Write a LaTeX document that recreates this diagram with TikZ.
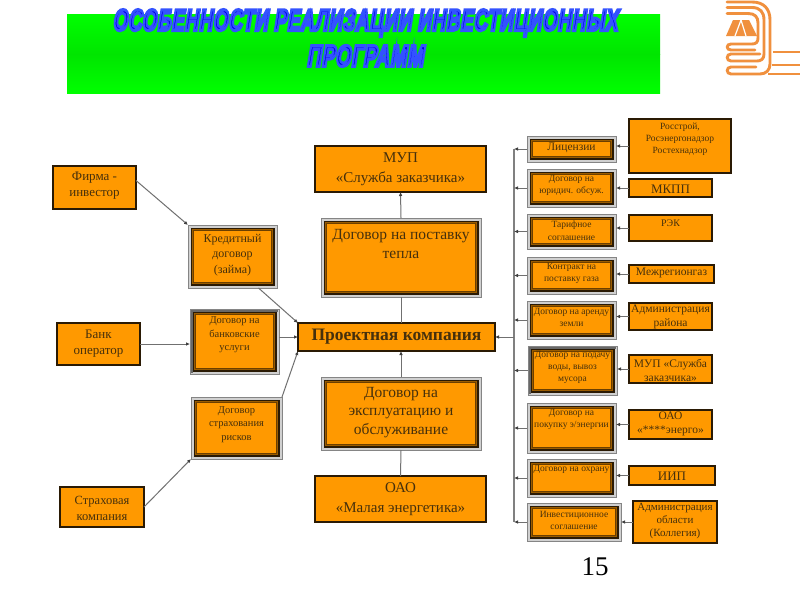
\documentclass[tikz,border=0pt]{standalone}
\usepackage{fontspec}
\setmainfont{Liberation Serif}
\newfontfamily\titlefont[FakeSlant=0.25,LetterSpace=3]{Liberation Sans Bold}
\newfontfamily\numfont{Liberation Serif}
\usetikzlibrary{calc,arrows.meta}
\definecolor{boxorange}{HTML}{FF9900}
\definecolor{rimgray}{HTML}{858585}
\definecolor{gapgray}{HTML}{D0D0D0}
\definecolor{framedark}{HTML}{2A1A04}
\definecolor{bandbrown}{HTML}{9A5C00}
\definecolor{thinbrown}{HTML}{6B3F00}
\definecolor{txtbrown}{HTML}{46300C}
\definecolor{linkgray}{HTML}{707070}
\definecolor{tipgray}{HTML}{404040}
\definecolor{logoorange}{HTML}{F0903E}
\definecolor{sideband}{HTML}{686868}
\newcommand{\outlined}[1]{\special{pdf:code q 2 Tr 1.0 w 0.2 0.32 1 RG}#1\special{pdf:code Q}}
\tikzset{
  x=1pt,y=1pt,
  plainbox/.style={draw=framedark,line width=1.3pt,fill=boxorange,inner sep=0pt,outer sep=0pt},
  rimbox/.style={draw=rimgray,line width=1pt,fill=gapgray,inner sep=0pt,outer sep=0pt},
  lbl/.style={inner sep=0pt,align=center,text=txtbrown},
  conn/.style={draw=linkgray,line width=1pt},
  arr/.style={conn,-{Latex[length=4pt,width=3.6pt,color=tipgray]}},
  logoline/.style={draw=logoorange,line width=2.9pt,line cap=round}
}
% name x0 y0 x1 y1 textcy size leading text
\newcommand{\pbox}[9]{%
  \node[plainbox,minimum width={(#4-#2)*1pt},minimum height={(#5-#3)*1pt}] (#1) at ({(#2+#4)/2},{-(#3+#5)/2}) {};
  \node[lbl,font=\fontsize{#7}{#8}\selectfont] (#1-t) at ({(#2+#4)/2},{-#6}) {#9};
}
\newcommand{\dbox}[9]{%
  \node[rimbox,minimum width={(#4-#2)*1pt},minimum height={(#5-#3)*1pt}] (#1) at ({(#2+#4)/2},{-(#3+#5)/2}) {};
  \fill[framedark] ($(#1.south west)+(2.5,2.5)$) rectangle ($(#1.north east)+(-2.5,-2.5)$);
  \fill[bandbrown] ($(#1.south west)+(3.7,3.7)$) rectangle ($(#1.north east)+(-3.7,-3.7)$);
  \fill[thinbrown] ($(#1.south west)+(5.2,5.2)$) rectangle ($(#1.north east)+(-5.2,-5.2)$);
  \fill[boxorange] ($(#1.south west)+(6,6)$) rectangle ($(#1.north east)+(-6,-6)$);
  \node[lbl,font=\fontsize{#7}{#8}\selectfont] (#1-t) at ({(#2+#4)/2},{-#6}) {#9};
}
\newcommand{\sidebar}[1]{%
  \fill[sideband] ($(#1.south west)+(0.8,0.8)$) rectangle ($(#1.north west)+(3,-0.8)$);
  \fill[sideband] ($(#1.north west)+(0.8,-0.8)$) rectangle ($(#1.north east)+(-0.8,-2.5)$);
}
\begin{document}
\begin{tikzpicture}
\useasboundingbox (0,0) rectangle (800,-600);
\fill[white] (0,0) rectangle (800,-600);
% title band
\shade[top color=green,bottom color=green!90!black] (67,-14) rectangle (660,-54);
\shade[top color=green!90!black,bottom color=green] (67,-54) rectangle (660,-93);
\node[inner sep=0pt,text=blue!90!black] (title1) at (365,-23) {\resizebox{505pt}{21pt}{\outlined{\titlefont ОСОБЕННОСТИ РЕАЛИЗАЦИИ ИНВЕСТИЦИОННЫХ}}};
\node[inner sep=0pt,text=blue!90!black] (title2) at (365,-56) {\resizebox{117pt}{21pt}{\outlined{\titlefont ПРОГРАММ}}};
% logo
\begin{scope}[yscale=-1]
\draw[logoline] (727,2) -- (752,2) .. controls (764,2) and (770,9) .. (770,20) -- (770,64) .. controls (770,70) and (766,74) .. (760,74) -- (731,74) .. controls (726,74) and (726,67) .. (731,67) -- (756,67);
\draw[logoline] (727,7.5) -- (752,7.5) .. controls (760,7.5) and (764,12) .. (764,20) -- (764,54) .. controls (764,59) and (761,61) .. (757,61) -- (731,61) .. controls (726,61) and (726,54) .. (731,54) -- (760,54);
\draw[logoline] (727,13.5) -- (748,13.5) .. controls (755,13.5) and (758,17) .. (758,23) -- (758,38) .. controls (758,42) and (756,44) .. (752,44) -- (731,44) .. controls (726,44) and (726,50) .. (731,50) -- (755,50);
\draw[logoline,line cap=butt] (773,52) -- (800,52);
\draw[logoline,line cap=butt] (772,65) -- (800,65);
\draw[logoline,line cap=butt] (768,74) -- (800,74);
\fill[logoorange] (726,36) -- (733,20) -- (749,20) -- (757,36) -- cycle;
\draw[white,line width=1.2pt] (735,36) -- (741,20);
\draw[white,line width=1.2pt] (746,36) -- (741,20);
\end{scope}
% centre column
\pbox{mup}{315}{146}{486}{192}{169}{15}{20}{МУП\\«Служба заказчика»}
\dbox{heat}{321}{218}{481}{297}{244}{15.5}{18.5}{Договор на поставку\\тепла}
\pbox{proj}{298}{323}{495}{351}{337}{17.5}{20}{\textbf{Проектная компания}}
\dbox{oper}{321}{377}{481}{450}{412.5}{15.5}{18.5}{Договор на\\эксплуатацию и\\обслуживание}
\pbox{mal}{315}{476}{486}{522}{499}{15}{20}{ОАО\\«Малая энергетика»}
% left column
\pbox{firm}{53}{166}{136}{209}{186}{13}{16}{Фирма -\\инвестор}
\dbox{cred}{188}{225}{277}{288}{255}{12}{15.5}{Кредитный\\договор\\(займа)}
\pbox{bank}{57}{323}{140}{365}{344}{13}{16}{Банк\\оператор}
\dbox{dbank}{190}{309}{279}{374}{335}{10.5}{13.5}{Договор на\\банковские\\услуги}
\sidebar{dbank}
\dbox{dins}{191}{397}{282}{459}{424.5}{10.5}{13.5}{Договор\\страхования\\рисков}
\pbox{ins}{60}{487}{144}{527}{508}{12.5}{16}{Страховая\\компания}
% contract column
\dbox{c1}{527}{136}{616}{162}{148}{11.5}{13}{Лицензии}
\dbox{c2}{527}{169}{616}{207}{185.5}{9.5}{12.5}{Договор на\\юридич. обсуж.}
\dbox{c3}{527}{214}{616}{249}{230.5}{9.5}{12.5}{Тарифное\\соглашение}
\dbox{c4}{527}{257}{616}{294}{273}{9.5}{12}{Контракт на\\поставку газа}
\dbox{c5}{527}{301}{616}{339}{317}{9.5}{12}{Договор на аренду\\земли}
\dbox{c6}{528}{346}{617}{395}{367.5}{9.5}{12}{Договор на подачу\\воды, вывоз\\мусора}
\sidebar{c6}
\dbox{c7}{527}{403}{616}{453}{419}{9.5}{12}{Договор на\\покупку э/энергии}
\dbox{c8}{527}{459}{616}{497}{469}{9.5}{12}{Договор на охрану}
\dbox{c9}{527}{503}{621}{541}{520}{9.5}{12}{Инвестиционное\\соглашение}
% partner column
\pbox{p1}{629}{119}{731}{173}{139}{9.5}{12}{Росстрой,\\Росэнергонадзор\\Ростехнадзор}
\pbox{p2}{629}{179}{712}{197}{189}{13}{14}{МКПП}
\pbox{p3}{629}{215}{712}{241}{223}{10}{12}{РЭК}
\pbox{p4}{629}{265}{714}{283}{273}{11.5}{14}{Межрегионгаз}
\pbox{p5}{629}{303}{712}{330}{317}{11.5}{14}{Администрация\\района}
\pbox{p6}{629}{355}{712}{383}{370}{11.5}{14}{МУП «Служба\\заказчика»}
\pbox{p7}{629}{410}{712}{439}{424}{11.5}{14}{ОАО\\«****энерго»}
\pbox{p8}{629}{466}{715}{485}{476}{13}{14}{ИИП}
\pbox{p9}{633}{501}{717}{543}{521}{11}{13}{Администрация\\области\\(Коллегия)}
% page number
\node[inner sep=0pt,font=\fontsize{27}{30}\selectfont\numfont,text=black] (pg) at (595,-567) {15};
% bus
\coordinate (bustop) at (514,-149);
\coordinate (busbot) at (514,-522);
\draw[conn,line width=1.2pt,draw=gray] (bustop) -- (busbot);
\foreach \c in {c1,c2,c3,c4,c5,c6,c7,c8,c9}{
  \draw[arr] (\c.west) -- (\c.west -| bustop);
}
\foreach \p/\c in {p1/c1,p2/c2,p3/c3,p4/c4,p5/c5,p6/c6,p7/c7,p8/c8,p9/c9}{
  \draw[arr] (\p.west) -- (\p.west -| \c.east);
}
\coordinate (busmid) at (514,-337);
\draw[arr] (busmid) -- (proj.east);
% centre links
\draw[conn] (proj.north -| heat.south) -- (heat.south);
\draw[arr] (heat.north) -- (mup.south);
\draw[conn] (mal.north) -- (oper.south);
\draw[arr] (oper.north) -- (proj.south -| oper.north);
% left links
\draw[arr] ([yshift=7pt]firm.east) -- (cred.north west);
\draw[arr] ([xshift=26pt]cred.south) -- (proj.north west);
\draw[arr] (bank.east) -- (bank.east -| dbank.west);
\draw[arr] (dbank.east |- proj.west) -- (proj.west);
\draw[arr] (ins.east) -- (dins.south west);
\draw[arr] (dins.north east) -- (proj.south west);
\end{tikzpicture}
\end{document}
